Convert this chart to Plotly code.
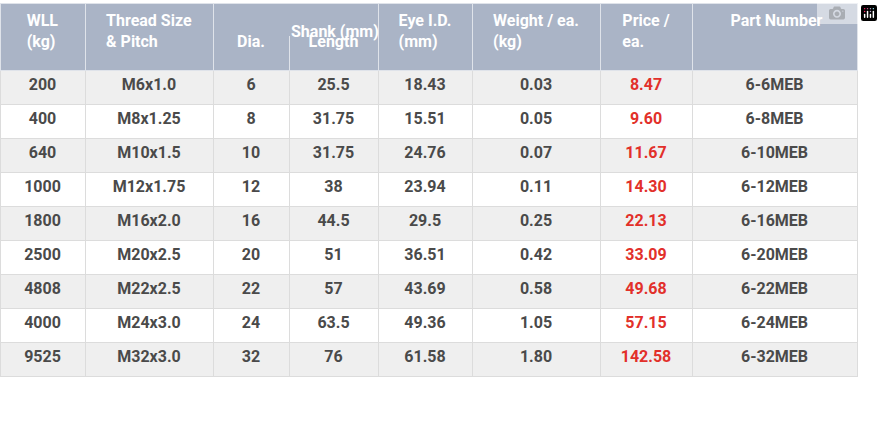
import plotly.graph_objects as go

W, H = 883, 435

wll = ["200", "400", "640", "1000", "1800", "2500", "4808", "4000", "9525"]
thread = ["M6x1.0", "M8x1.25", "M10x1.5", "M12x1.75", "M16x2.0", "M20x2.5", "M22x2.5", "M24x3.0", "M32x3.0"]
dia = ["6", "8", "10", "12", "16", "20", "22", "24", "32"]
length = ["25.5", "31.75", "31.75", "38", "44.5", "51", "57", "63.5", "76"]
eye_id = ["18.43", "15.51", "24.76", "23.94", "29.5", "36.51", "43.69", "49.36", "61.58"]
weight = ["0.03", "0.05", "0.07", "0.11", "0.25", "0.42", "0.58", "1.05", "1.80"]
price = ["8.47", "9.60", "11.67", "14.30", "22.13", "33.09", "49.68", "57.15", "142.58"]
part_no = ["6-6MEB", "6-8MEB", "6-10MEB", "6-12MEB", "6-16MEB", "6-20MEB", "6-22MEB", "6-24MEB", "6-32MEB"]

headers = ["WLL<br>(kg)", "Thread Size<br>& Pitch", "&nbsp;<br>Dia.", "&nbsp;<br>Length", "Eye I.D.<br>(mm)",
           "Weight / ea.<br>(kg)", "Price /<br>ea.", "&nbsp;Part Number"]
col_widths = [85, 128, 76, 89, 94, 128, 92, 165]

HEAD = "#aab4c6"
GREY = "#4a4a4a"
RED = "#e2302a"
n = len(wll)
row_fill = ["#efefef" if i % 2 == 0 else "#ffffff" for i in range(n)]
font_cols = [GREY] * 6 + [RED, GREY]

fig = go.Figure(go.Table(
    columnwidth=col_widths,
    domain=dict(x=[0, 857 / W], y=[0, 1 - 3 / H]),
    header=dict(values=headers, height=67, fill_color=HEAD, align="center",
                line=dict(color="#dfe3ea", width=1),
                font=dict(family="Roboto", size=16, color="white", weight="bold")),
    cells=dict(values=[wll, thread, dia, length, eye_id, weight, price, part_no],
               height=34, align="center",
               fill_color=[row_fill] * 8,
               line=dict(color="#dcdcdc", width=1),
               font=dict(family="Roboto", size=16, color=[[c] * n for c in font_cols], weight="bold")),
))

# merged "Shank (mm)" header over Dia. / Length
x_div = (85 + 128 + 76) / W
fig.add_shape(type="rect", xref="paper", yref="paper",
              x0=x_div - 3 / W, x1=x_div + 3 / W, y0=1 - 36 / H, y1=1 - 4 / H,
              fillcolor=HEAD, line_width=0, layer="above")
fig.add_annotation(x=x_div, y=1 - 20 / H, xref="paper", yref="paper", text="Shank (mm)",
                   showarrow=False, font=dict(family="Roboto", size=16, color="white", weight="bold"))

fig.update_layout(width=W, height=H, margin=dict(l=0, r=0, t=0, b=0),
                  paper_bgcolor="white", plot_bgcolor="white")
fig.write_html("out.html", post_script="document.body.style.margin='0';")
